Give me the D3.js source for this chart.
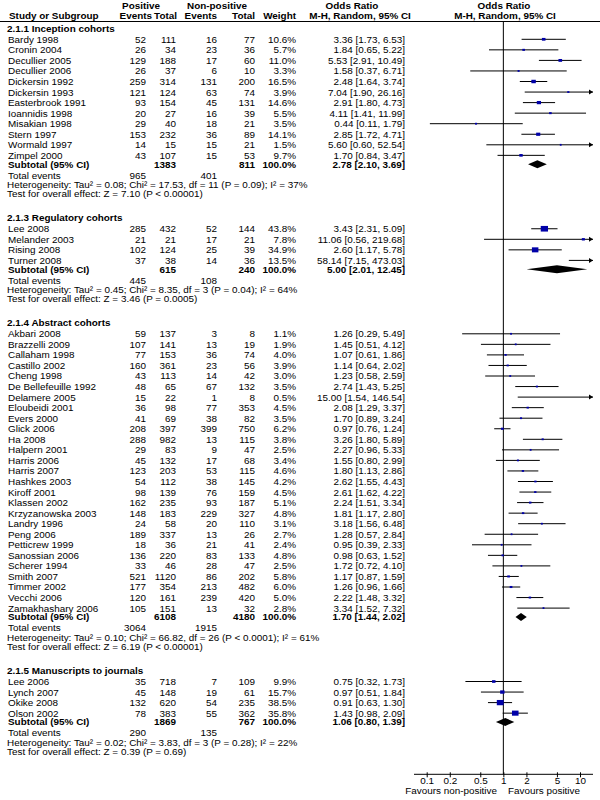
<!DOCTYPE html>
<html><head><meta charset="utf-8">
<script src="https://cdn.jsdelivr.net/npm/d3@7"></script>
<style>
html,body{margin:0;padding:0;background:#fff;}
svg{display:block;font-family:Arial,"Liberation Sans",Helvetica,sans-serif;}
</style></head><body>
<svg id="chart" width="600" height="800"></svg>
<script>
// ---------- DATA ----------
const groupTitles = ["2.1.1 Inception cohorts","2.1.3 Regulatory cohorts","2.1.4 Abstract cohorts","2.1.5 Manuscripts to journals"];
const studyGroup = [0,0,0,0,0,0,0,0,0,0,0,0, 1,1,1,1, 2,2,2,2,2,2,2,2,2,2,2,2,2,2,2,2,2,2,2,2,2,2,2,2,2,2,2, 3,3,3,3];
const studyNames = ["Bardy 1998","Cronin 2004","Decullier 2005","Decullier 2006","Dickersin 1992","Dickersin 1993","Easterbrook 1991","Ioannidis 1998","Misakian 1998","Stern 1997","Wormald 1997","Zimpel 2000",
  "Lee 2008","Melander 2003","Rising 2008","Turner 2008",
  "Akbari 2008","Brazzelli 2009","Callaham 1998","Castillo 2002","Cheng 1998","De Bellefeuille 1992","Delamere 2005","Eloubeidi 2001","Evers 2000","Glick 2006","Ha 2008","Halpern 2001","Harris 2006","Harris 2007","Hashkes 2003","Kiroff 2001","Klassen 2002","Krzyzanowska 2003","Landry 1996","Peng 2006","Petticrew 1999","Sanossian 2006","Scherer 1994","Smith 2007","Timmer 2002","Vecchi 2006","Zamakhashary 2006",
  "Lee 2006","Lynch 2007","Okike 2008","Olson 2002"];
const posEvents = [52,26,129,26,259,121,93,20,29,153,14,43, 285,21,102,37, 59,107,77,160,43,48,15,36,41,208,288,29,45,123,54,98,162,148,24,189,18,136,33,521,177,120,105, 35,45,132,78];
const posTotal  = [111,34,188,37,314,124,154,27,40,232,15,107, 432,21,124,38, 137,141,153,361,113,65,22,98,69,397,982,83,132,203,112,139,235,183,58,337,36,220,46,1120,354,161,151, 718,148,620,383];
const nonEvents = [16,23,17,6,131,63,45,16,18,36,15,15, 52,17,25,14, 3,13,36,23,14,67,1,77,38,399,13,9,17,53,38,76,93,229,20,13,21,83,28,86,213,239,13, 7,19,54,55];
const nonTotal  = [77,36,60,10,200,74,131,39,21,89,21,53, 144,21,39,36, 8,19,74,56,42,132,8,353,82,750,115,47,68,115,145,159,187,327,110,26,41,133,47,202,482,420,32, 109,61,235,362];
const weights   = [10.6,5.7,11.0,3.3,16.5,3.9,14.6,5.5,3.5,14.1,1.5,9.7, 43.8,7.8,34.9,13.5, 1.1,1.9,4.0,3.9,3.0,3.5,0.5,4.5,3.5,6.2,3.8,2.5,3.4,4.6,4.2,4.5,5.1,4.8,3.1,2.7,2.4,4.8,2.5,5.8,6.0,5.0,2.8, 9.9,15.7,38.5,35.8];
const orEst  = [3.36,1.84,5.53,1.58,2.48,7.04,2.91,4.11,0.44,2.85,5.60,1.70, 3.43,11.06,2.60,58.14, 1.26,1.45,1.07,1.14,1.23,2.74,15.00,2.08,1.70,0.97,3.26,2.27,1.55,1.80,2.62,2.61,2.24,1.81,3.18,1.28,0.95,0.98,1.72,1.17,1.26,2.22,3.34, 0.75,0.97,0.91,1.43];
const ciLow  = [1.73,0.65,2.91,0.37,1.64,1.90,1.80,1.41,0.11,1.72,0.60,0.84, 2.31,0.56,1.17,7.15, 0.29,0.51,0.61,0.64,0.58,1.43,1.54,1.29,0.89,0.76,1.80,0.96,0.80,1.13,1.55,1.62,1.51,1.17,1.56,0.57,0.39,0.63,0.72,0.87,0.96,1.48,1.52, 0.32,0.51,0.63,0.98];
const ciHigh = [6.53,5.22,10.49,6.71,3.74,26.16,4.73,11.99,1.79,4.71,52.54,3.47, 5.09,219.68,5.78,473.03, 5.49,4.12,1.86,2.02,2.59,5.25,146.54,3.37,3.24,1.24,5.89,5.33,2.99,2.86,4.43,4.22,3.34,2.80,6.48,2.84,2.33,1.52,4.10,1.59,1.66,3.32,7.32, 1.73,1.84,1.30,2.09];

const subPosTotal = [1383,615,6108,1869];
const subNonTotal = [811,240,4180,767];
const subOR   = [2.78,5.00,1.70,1.06];
const subLow  = [2.10,2.01,1.44,0.80];
const subHigh = [3.69,12.45,2.02,1.39];
const subPosEvents = [965,445,3064,290];
const subNonEvents = [401,108,1915,135];
const hetText = [
  "Heterogeneity: Tau\u00b2 = 0.08; Chi\u00b2 = 17.53, df = 11 (P = 0.09); I\u00b2 = 37%",
  "Heterogeneity: Tau\u00b2 = 0.45; Chi\u00b2 = 8.35, df = 3 (P = 0.04); I\u00b2 = 64%",
  "Heterogeneity: Tau\u00b2 = 0.10; Chi\u00b2 = 66.82, df = 26 (P < 0.0001); I\u00b2 = 61%",
  "Heterogeneity: Tau\u00b2 = 0.02; Chi\u00b2 = 3.83, df = 3 (P = 0.28); I\u00b2 = 22%"];
const testText = [
  "Test for overall effect: Z = 7.10 (P < 0.00001)",
  "Test for overall effect: Z = 3.46 (P = 0.0005)",
  "Test for overall effect: Z = 6.19 (P < 0.00001)",
  "Test for overall effect: Z = 0.39 (P = 0.69)"];
const axisTicks = [0.1,0.2,0.5,1,2,5,10];
const axisTickLabels = ["0.1","0.2","0.5","1","2","5","10"];
const favoursLabels = ["Favours non-positive","Favours positive"];

// ---------- LAYOUT ----------
const svg = d3.select("#chart");
// calibrate font size so that the first heterogeneity line spans ~301px, as in the reference
const probe = svg.append("text").attr("font-size","10px").text(hetText[0]);
const probeLen = probe.node().getComputedTextLength();
probe.remove();
let fs = 10 * 301 / (probeLen || 301);
fs = Math.max(8.5, Math.min(12, fs));
svg.style("font-size", fs + "px");

const x = d3.scaleLog().domain([0.1,10]).range([426.7,580]);
const xMin = 414, xMax = 593;
const axisY = 774.3;
const col = {name:8, title:7, pe:146, pt:176, ne:217, nt:255, w:296, or:405};
const fmt2 = d => d.toFixed(2);
const orStr = (e,l,h) => `${fmt2(e)} [${fmt2(l)}, ${fmt2(h)}]`;

function txt(xp, yp, s, anchor, bold){
  return svg.append("text").attr("x",xp).attr("y",yp).attr("dy","0.35em")
    .attr("text-anchor",anchor||"start").attr("font-weight",bold?"bold":"normal")
    .attr("fill","#000").text(s);
}

// header
txt(141,6,"Positive","middle",true);
txt(217,6,"Non-positive","middle",true);
txt(9,16,"Study or Subgroup","start",true);
txt(152,16,"Events","end",true);
txt(177,16,"Total","end",true);
txt(217,16,"Events","end",true);
txt(255,16,"Total","end",true);
txt(296,16,"Weight","end",true);
txt(352,6,"Odds Ratio","middle",true);
txt(360,16,"M-H, Random, 95% CI","middle",true);
txt(504,6,"Odds Ratio","middle",true);
txt(505,16,"M-H, Random, 95% CI","middle",true);
svg.append("line").attr("x1",0).attr("x2",600).attr("y1",21.5).attr("y2",21.5).attr("stroke","#000");

// null line
svg.append("line").attr("x1",x(1)).attr("x2",x(1)).attr("y1",22).attr("y2",axisY).attr("stroke","#000");

const rowH = 10.55, gapA = 11, gapS = 8.8, gapT = 11, gapH = 9.3, gapG = 24;
let y = 28.3;
const plot = svg.append("g");
groupTitles.forEach((title, g) => {
  txt(col.title, y, title, "start", true);
  y += gapA;
  const idx = studyNames.map((_,i)=>i).filter(i=>studyGroup[i]===g);
  idx.forEach((i, k) => {
    if (k>0) y += rowH;
    txt(col.name, y, studyNames[i]);
    txt(col.pe, y, posEvents[i], "end");
    txt(col.pt, y, posTotal[i], "end");
    txt(col.ne, y, nonEvents[i], "end");
    txt(col.nt, y, nonTotal[i], "end");
    txt(col.w, y, weights[i].toFixed(1)+"%", "end");
    txt(col.or, y, orStr(orEst[i],ciLow[i],ciHigh[i]), "end");
    const x1 = Math.max(x(ciLow[i]), xMin), x2 = Math.min(x(ciHigh[i]), xMax);
    plot.append("line").attr("x1",x1).attr("x2",x2).attr("y1",y).attr("y2",y).attr("stroke","#000").attr("stroke-width",1);
    if (x(ciHigh[i]) > xMax) {
      plot.append("path").attr("d",`M${xMax},${y} L${xMax-4},${y-2.5} L${xMax-4},${y+2.5} Z`).attr("fill","#000");
    }
    if (x(ciLow[i]) < xMin) {
      plot.append("path").attr("d",`M${xMin},${y} L${xMin+4},${y-2.5} L${xMin+4},${y+2.5} Z`).attr("fill","#000");
    }
    const xe = x(orEst[i]);
    if (xe >= xMin && xe <= xMax) {
      const sw = Math.max(1.8, 1.1*Math.sqrt(weights[i]));
      const sh = Math.max(1.8, 0.85*Math.sqrt(weights[i]));
      plot.append("rect").attr("x",xe-sw/2).attr("y",y-sh/2).attr("width",sw).attr("height",sh).attr("fill","#0000a8");
    }
  });
  y += gapS;
  txt(col.name, y, "Subtotal (95% CI)", "start", true);
  txt(col.pt, y, subPosTotal[g], "end", true);
  txt(col.nt, y, subNonTotal[g], "end", true);
  txt(col.w, y, "100.0%", "end", true);
  txt(col.or, y, orStr(subOR[g],subLow[g],subHigh[g]), "end", true);
  const dl = x(subLow[g]), dh = Math.min(x(subHigh[g]), xMax), de = x(subOR[g]);
  plot.append("path").attr("d",`M${dl},${y} L${de},${y-4} L${dh},${y} L${de},${y+4} Z`).attr("fill","#000");
  y += gapT;
  txt(col.name, y, "Total events");
  txt(col.pe, y, subPosEvents[g], "end");
  txt(col.ne, y, subNonEvents[g], "end");
  y += gapH;
  txt(col.title, y, hetText[g]);
  y += gapH;
  txt(col.title, y, testText[g]);
  y += gapG;
});

// axis
const axis = d3.axisBottom(x).tickValues(axisTicks).tickFormat((d,i)=>axisTickLabels[i]).tickSizeInner(3).tickSizeOuter(0).tickPadding(1);
const ag = svg.append("g").attr("transform",`translate(0,${axisY})`).call(axis);
ag.attr("font-size", null).attr("font-family", null);
ag.select(".domain").attr("d",`M${xMin},0H${xMax}`).attr("stroke","#000");
ag.selectAll(".tick line").attr("y1",-2).attr("y2",3).attr("stroke","#000");
ag.selectAll(".tick text").attr("y",6.5).attr("dy","0.35em").attr("fill","#000");
txt(497, 791, favoursLabels[0], "end");
txt(508, 791, favoursLabels[1], "start");
</script>
</body></html>
